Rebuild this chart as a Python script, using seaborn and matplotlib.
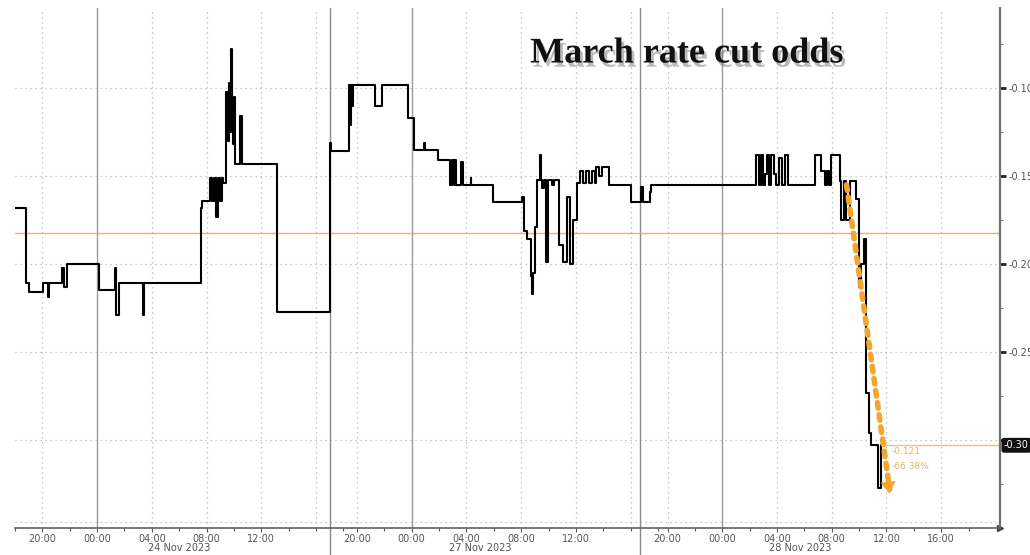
import pandas as pd
import numpy as np
import matplotlib
matplotlib.use('Agg')
import matplotlib.pyplot as plt
import matplotlib.patheffects as pe
import seaborn as sns

# trading sessions (x axis skips the weekend / overnight gaps)
session_starts = ['2023-11-23 18:00', '2023-11-26 18:00', '2023-11-27 18:00']
session_offsets = [0, 23, 45.7]

times = [
    '2023-11-23 18:00', '2023-11-23 18:48', '2023-11-23 19:01', '2023-11-23 20:03', '2023-11-23 20:25',
    '2023-11-23 20:30', '2023-11-23 21:26', '2023-11-23 21:35', '2023-11-23 21:48', '2023-11-24 00:08',
    '2023-11-24 01:18', '2023-11-24 01:22', '2023-11-24 01:35', '2023-11-24 03:21', '2023-11-24 03:25',
    '2023-11-24 07:35', '2023-11-24 07:39', '2023-11-24 08:14', '2023-11-24 08:23', '2023-11-24 08:31',
    '2023-11-24 08:40', '2023-11-24 08:49', '2023-11-24 08:58', '2023-11-24 09:07', '2023-11-24 09:11',
    '2023-11-24 09:24', '2023-11-24 09:33', '2023-11-24 09:37', '2023-11-24 09:41', '2023-11-24 09:46',
    '2023-11-24 09:50', '2023-11-24 09:54', '2023-11-24 09:59', '2023-11-24 10:03', '2023-11-24 10:25',
    '2023-11-24 10:34', '2023-11-24 13:08',
    '2023-11-26 18:00', '2023-11-26 18:04', '2023-11-26 19:23', '2023-11-26 19:28', '2023-11-26 19:32',
    '2023-11-26 19:36', '2023-11-26 19:41', '2023-11-26 21:21', '2023-11-26 21:48', '2023-11-26 23:42',
    '2023-11-27 00:12', '2023-11-27 00:52', '2023-11-27 00:56', '2023-11-27 01:57', '2023-11-27 02:46',
    '2023-11-27 02:55', '2023-11-27 03:04', '2023-11-27 03:08', '2023-11-27 03:13', '2023-11-27 03:38',
    '2023-11-27 03:43', '2023-11-27 04:18', '2023-11-27 04:22', '2023-11-27 05:58', '2023-11-27 08:05',
    '2023-11-27 08:14', '2023-11-27 08:27', '2023-11-27 08:45', '2023-11-27 08:49', '2023-11-27 08:53',
    '2023-11-27 09:02', '2023-11-27 09:11', '2023-11-27 09:24', '2023-11-27 09:29', '2023-11-27 09:33',
    '2023-11-27 09:41', '2023-11-27 09:50', '2023-11-27 09:59', '2023-11-27 10:16', '2023-11-27 10:25',
    '2023-11-27 10:48', '2023-11-27 11:05', '2023-11-27 11:23', '2023-11-27 11:36', '2023-11-27 11:49',
    '2023-11-27 12:07', '2023-11-27 12:20', '2023-11-27 12:33', '2023-11-27 12:46', '2023-11-27 12:59',
    '2023-11-27 13:12', '2023-11-27 13:25', '2023-11-27 13:29', '2023-11-27 13:43', '2023-11-27 13:56',
    '2023-11-27 14:26', '2023-11-27 16:03',
    '2023-11-27 18:04', '2023-11-27 18:13', '2023-11-27 18:44', '2023-11-27 18:48', '2023-11-28 02:28',
    '2023-11-28 02:41', '2023-11-28 02:50', '2023-11-28 02:59', '2023-11-28 03:08', '2023-11-28 03:16',
    '2023-11-28 03:25', '2023-11-28 03:34', '2023-11-28 03:47', '2023-11-28 03:56', '2023-11-28 04:09',
    '2023-11-28 04:22', '2023-11-28 04:35', '2023-11-28 04:48', '2023-11-28 06:46', '2023-11-28 07:13',
    '2023-11-28 07:30', '2023-11-28 07:39', '2023-11-28 07:48', '2023-11-28 07:56', '2023-11-28 08:36',
    '2023-11-28 08:40', '2023-11-28 08:53', '2023-11-28 09:02', '2023-11-28 09:19', '2023-11-28 09:46',
    '2023-11-28 09:59', '2023-11-28 10:08', '2023-11-28 10:21', '2023-11-28 10:29', '2023-11-28 10:42',
    '2023-11-28 10:52', '2023-11-28 11:22', '2023-11-28 11:36', '2023-11-28 11:44',
]
values = [
    -0.168, -0.211, -0.216, -0.211, -0.219,
    -0.211, -0.202, -0.213, -0.200, -0.215,
    -0.202, -0.229, -0.211, -0.229, -0.211,
    -0.168, -0.164, -0.151, -0.164, -0.151,
    -0.173, -0.151, -0.164, -0.151, -0.154,
    -0.102, -0.130, -0.097, -0.125, -0.078,
    -0.110, -0.132, -0.105, -0.143, -0.116,
    -0.143, -0.227,
    -0.131, -0.136, -0.098, -0.121, -0.098,
    -0.110, -0.098, -0.110, -0.098, -0.117,
    -0.135, -0.131, -0.135, -0.141, -0.155,
    -0.141, -0.155, -0.141, -0.155, -0.142,
    -0.155, -0.151, -0.155, -0.165, -0.162,
    -0.181, -0.186, -0.207, -0.217, -0.205,
    -0.179, -0.152, -0.138, -0.152, -0.157,
    -0.152, -0.199, -0.152, -0.155, -0.152,
    -0.189, -0.199, -0.162, -0.200, -0.175,
    -0.154, -0.147, -0.154, -0.147, -0.154,
    -0.147, -0.154, -0.145, -0.150, -0.145,
    -0.155, -0.165,
    -0.156, -0.165, -0.159, -0.155, -0.138,
    -0.155, -0.138, -0.155, -0.149, -0.138,
    -0.155, -0.138, -0.149, -0.155, -0.140,
    -0.155, -0.138, -0.155, -0.138, -0.147,
    -0.155, -0.147, -0.155, -0.138, -0.153,
    -0.175, -0.153, -0.175, -0.153, -0.163,
    -0.213, -0.200, -0.186, -0.273, -0.296,
    -0.303, -0.327, -0.303, -0.303,
]

ref_level = -0.1823
last_value = -0.303
arrow_times = ['2023-11-28 09:05', '2023-11-28 12:14']
arrow_values = [-0.155, -0.328]
change_labels = ['-0.121', '-66.38%']

tick_times = ['2023-11-23 20:00', '2023-11-24 00:00', '2023-11-24 04:00', '2023-11-24 08:00', '2023-11-24 12:00',
              '2023-11-26 20:00', '2023-11-27 00:00', '2023-11-27 04:00', '2023-11-27 08:00', '2023-11-27 12:00',
              '2023-11-27 20:00', '2023-11-28 00:00', '2023-11-28 04:00', '2023-11-28 08:00', '2023-11-28 12:00',
              '2023-11-28 16:00']
grid_extra = ['2023-11-24 16:00', '2023-11-27 16:00']
date_labels = ['24 Nov 2023', '27 Nov 2023', '28 Nov 2023']
date_label_times = ['2023-11-24 06:00', '2023-11-27 05:00', '2023-11-28 05:40']
y_ticks = [-0.30, -0.25, -0.20, -0.15, -0.10]


def chart_hours(ts):
    t = pd.Timestamp(ts)
    for start, off in reversed(list(zip(session_starts, session_offsets))):
        s = pd.Timestamp(start)
        if t >= s:
            return off + (t - s).total_seconds() / 3600
    return 0.0


df = pd.DataFrame({'x': [chart_hours(t) for t in times], 'value': values})

sns.set_theme(style='white')
plt.rcParams['axes.unicode_minus'] = False

fig = plt.figure(figsize=(10.3, 5.55), dpi=100)
ax = fig.add_axes([15 / 1030, 27 / 555, 985 / 1030, 520 / 555])

x_max = 72.0
ax.set_xlim(0, x_max)
ax.set_ylim(-0.35, -0.0545)

# grid
grid_col = '#b5b5b5'
ax.set_yticks(y_ticks)
# the -0.30 label sits under the last-price tag
ax.set_yticklabels(['' if abs(v - last_value) < 0.01 else '%.2f' % v for v in y_ticks])
for v in y_ticks:
    ax.axhline(v, color=grid_col, lw=0.9, ls=(0, (1, 3)), zorder=1)
ax.axhline(-0.3465, color=grid_col, lw=0.9, ls=(0, (1, 3)), zorder=1)
for t in tick_times + grid_extra:
    xp = chart_hours(t)
    if t.endswith('00:00'):
        ax.axvline(xp, color='#9a9a9a', lw=1.0, zorder=1)
    else:
        ax.axvline(xp, color=grid_col, lw=0.9, ls=(0, (1, 3)), zorder=1)
for off in session_offsets[1:]:
    ax.axvline(off, ymin=-0.055, ymax=1, color='#8a8a8a', lw=1.0, clip_on=False, zorder=1)

# reference level and last price line
ax.axhline(ref_level, color='#f0a050', lw=1.0, alpha=0.85, zorder=2)
ax.plot([df['x'].iloc[-1], x_max], [last_value, last_value], color='#f3bf75', lw=1.0, zorder=2)

sns.lineplot(data=df, x='x', y='value', drawstyle='steps-post', color='black', lw=1.5,
             estimator=None, sort=False, ax=ax, zorder=3)

# dotted arrow showing the move
ax0 = [chart_hours(t) for t in arrow_times]
ax.plot(ax0, arrow_values, color='#f2a630', lw=4, ls=(0, (1, 1.2)), dash_capstyle='round', zorder=4)
ax.annotate('', xy=(ax0[1], arrow_values[1] - 0.004),
            xytext=(ax0[1] - (ax0[1] - ax0[0]) * 0.06, arrow_values[1] + (arrow_values[0] - arrow_values[1]) * 0.06),
            arrowprops=dict(arrowstyle='-|>,head_width=0.45,head_length=0.7', color='#f2a630', lw=0.1), zorder=4)
ax.text(ax0[1] + 0.15, last_value - 0.0035, change_labels[0], color='#e9b265', fontsize=6.5, va='center', zorder=5)
ax.text(ax0[1] + 0.15, last_value - 0.012, change_labels[1], color='#e9b265', fontsize=6.5, va='center', zorder=5)

# axes styling
ax.set_xlabel('')
ax.set_ylabel('')
ax.yaxis.tick_right()
for s in ['top', 'left']:
    ax.spines[s].set_visible(False)
ax.spines['right'].set_color('#707070')
ax.spines['right'].set_linewidth(1.6)
ax.spines['bottom'].set_color('#606060')
ax.spines['bottom'].set_linewidth(1.2)
ax.plot([1.0], [0.0], marker='>', color='#404040', ms=5, transform=ax.transAxes, clip_on=False)

ax.set_xticks([chart_hours(t) for t in tick_times])
ax.set_xticklabels([t[-5:] for t in tick_times])
minor = []
for start, off in zip(session_starts, session_offsets):
    minor += list(off + np.arange(0, 26, 2))
ax.set_xticks([m for m in minor if m < x_max], minor=True)
ax.set_yticks(np.arange(-0.325, -0.06, 0.05), minor=True)
ax.tick_params(axis='x', which='major', length=3, width=0.8, color='#555555', pad=1.5,
               labelsize=7, labelcolor='#555555', bottom=True)
ax.tick_params(axis='x', which='minor', length=2, width=0.8, color='#555555', bottom=True)
ax.tick_params(axis='y', which='major', length=4, width=2, color='#222222', pad=2,
               labelsize=7, labelcolor='#555555', right=True)
ax.tick_params(axis='y', which='minor', length=2, width=0.8, color='#777777', right=True)

for lab, t in zip(date_labels, date_label_times):
    ax.text(chart_hours(t), -0.038, lab, transform=ax.get_xaxis_transform(), ha='center', va='center',
            fontsize=7, color='#555555')

# last price tag
ax.text(1.004, last_value, '%.2f' % last_value, transform=ax.get_yaxis_transform(), ha='left', va='center',
        fontsize=7, color='white', clip_on=False,
        bbox=dict(boxstyle='round,pad=0.25', fc='#111111', ec='none'))

fig.text(0.667, 1 - 54 / 555, 'March rate cut odds', ha='center', va='center', fontsize=26,
         fontweight='bold', family='Liberation Serif', color='#111111',
         path_effects=[pe.SimplePatchShadow(offset=(2, -3), shadow_rgbFace='#777777', alpha=0.5), pe.Normal()])

fig.savefig('out.png', dpi=100)
